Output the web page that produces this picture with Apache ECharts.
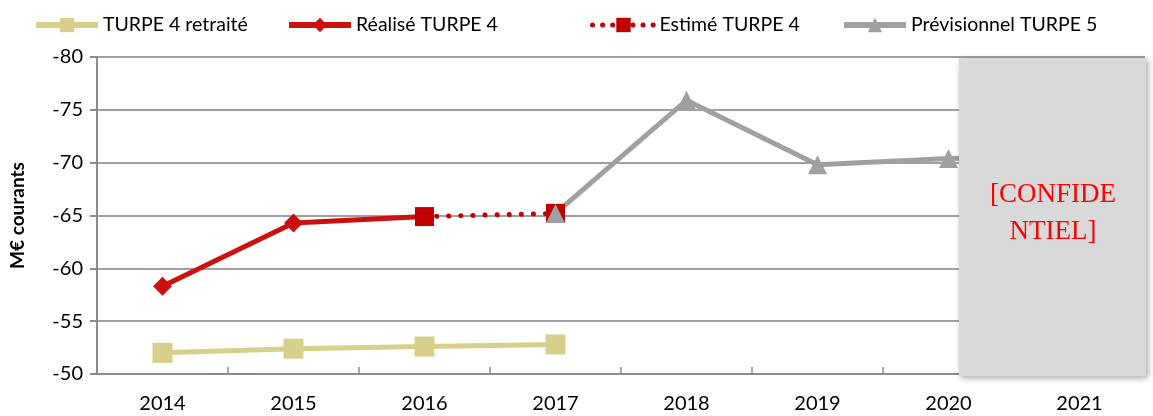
<!DOCTYPE html>
<html>
<head>
<meta charset="utf-8">
<script src="https://cdn.jsdelivr.net/npm/echarts@6/dist/echarts.min.js"></script>
<style>
  html, body { margin: 0; padding: 0; background: #fff; }
  #chart { width: 1153px; height: 416px; }
</style>
</head>
<body>
<div id="chart"></div>
<script>
const years = ['2014', '2015', '2016', '2017', '2018', '2019', '2020', '2021']
const retraite = [-52.0, -52.4, -52.6, -52.8, null, null, null, null]
const realise = [-58.3, -64.3, -64.9, null, null, null, null, null]
const estime = [null, null, -64.9, -65.2, null, null, null, null]
const previsionnel = [null, null, null, -65.2, -75.9, -69.8, -70.4, -70.6]
const yTicks = { min: -80, max: -50, step: 5 }

const chart = echarts.init(document.getElementById('chart'))

const font = 'Lato, "Open Sans", sans-serif'
const legendText = { fontSize: 19.5, fontFamily: font, color: '#000' }

// one legend per series so each sits where it does in the picture
const legendAt = (name, left, dotted) => ({
  data: [name],
  left: left,
  top: 10,
  itemWidth: 62,
  itemHeight: 18,
  itemGap: 6,
  lineStyle: dotted ? { width: 5, type: [0.1, 10], cap: 'round' } : { width: 6 },
  textStyle: legendText
})

chart.setOption({
  animation: false,
  legend: [
    legendAt('TURPE 4 retraité', 28),
    legendAt('Réalisé TURPE 4', 281),
    legendAt('Estimé TURPE 4', 585, true),
    legendAt('Prévisionnel TURPE 5', 836)
  ],
  grid: { left: 94, right: 8, top: 57, bottom: 42 },
  xAxis: {
    type: 'category',
    data: years,
    boundaryGap: true,
    axisLine: { lineStyle: { color: '#8c8c8c', width: 2 } },
    axisTick: { show: true, inside: true, length: 7, lineStyle: { color: '#8c8c8c', width: 1.5 } },
    axisLabel: { fontSize: 20, fontFamily: font, color: '#000', margin: 20 }
  },
  yAxis: {
    type: 'value',
    inverse: true,
    min: yTicks.min,
    max: yTicks.max,
    interval: yTicks.step,
    name: 'M€ courants',
    nameLocation: 'middle',
    nameGap: 70,
    nameTextStyle: { fontSize: 19, fontFamily: font, fontWeight: 'bold', color: '#000' },
    axisLine: { show: true, lineStyle: { color: '#8c8c8c', width: 2 } },
    axisTick: { show: true, length: 7, lineStyle: { color: '#8c8c8c', width: 2 } },
    splitLine: { lineStyle: { color: '#a0a0a0', width: 2 } },
    axisLabel: { fontSize: 20, fontFamily: font, color: '#000', margin: 14 }
  },
  series: [
    {
      name: 'TURPE 4 retraité',
      type: 'line',
      data: retraite,
      symbol: 'rect',
      symbolSize: 20,
      itemStyle: { color: '#d6d08a' },
      lineStyle: { color: '#d6d08a', width: 5 }
    },
    {
      name: 'Réalisé TURPE 4',
      type: 'line',
      data: realise,
      symbol: 'diamond',
      symbolSize: 19,
      itemStyle: { color: '#cc1010' },
      lineStyle: { color: '#cc1010', width: 5 }
    },
    {
      name: 'Estimé TURPE 4',
      type: 'line',
      data: estime,
      symbol: 'rect',
      symbolSize: 19,
      itemStyle: { color: '#c00000' },
      lineStyle: { color: '#c00000', width: 5, type: [0.1, 12], cap: 'round' }
    },
    {
      name: 'Prévisionnel TURPE 5',
      type: 'line',
      data: previsionnel,
      symbol: 'triangle',
      symbolSize: 19,
      itemStyle: { color: '#a0a0a0' },
      lineStyle: { color: '#a0a0a0', width: 5 }
    }
  ],
  graphic: [
    {
      type: 'rect',
      z: 100,
      shape: { x: 959, y: 58, width: 187, height: 318 },
      style: {
        fill: '#d9d9d9',
        shadowBlur: 6,
        shadowOffsetX: 2,
        shadowOffsetY: 2,
        shadowColor: 'rgba(0,0,0,0.35)'
      }
    },
    {
      type: 'text',
      z: 101,
      x: 1053,
      y: 176,
      style: {
        text: '[CONFIDE\nNTIEL]',
        fill: '#ff0000',
        font: '27px "Liberation Serif", "DejaVu Serif", serif',
        align: 'center',
        lineHeight: 37
      }
    }
  ]
})
</script>
</body>
</html>
